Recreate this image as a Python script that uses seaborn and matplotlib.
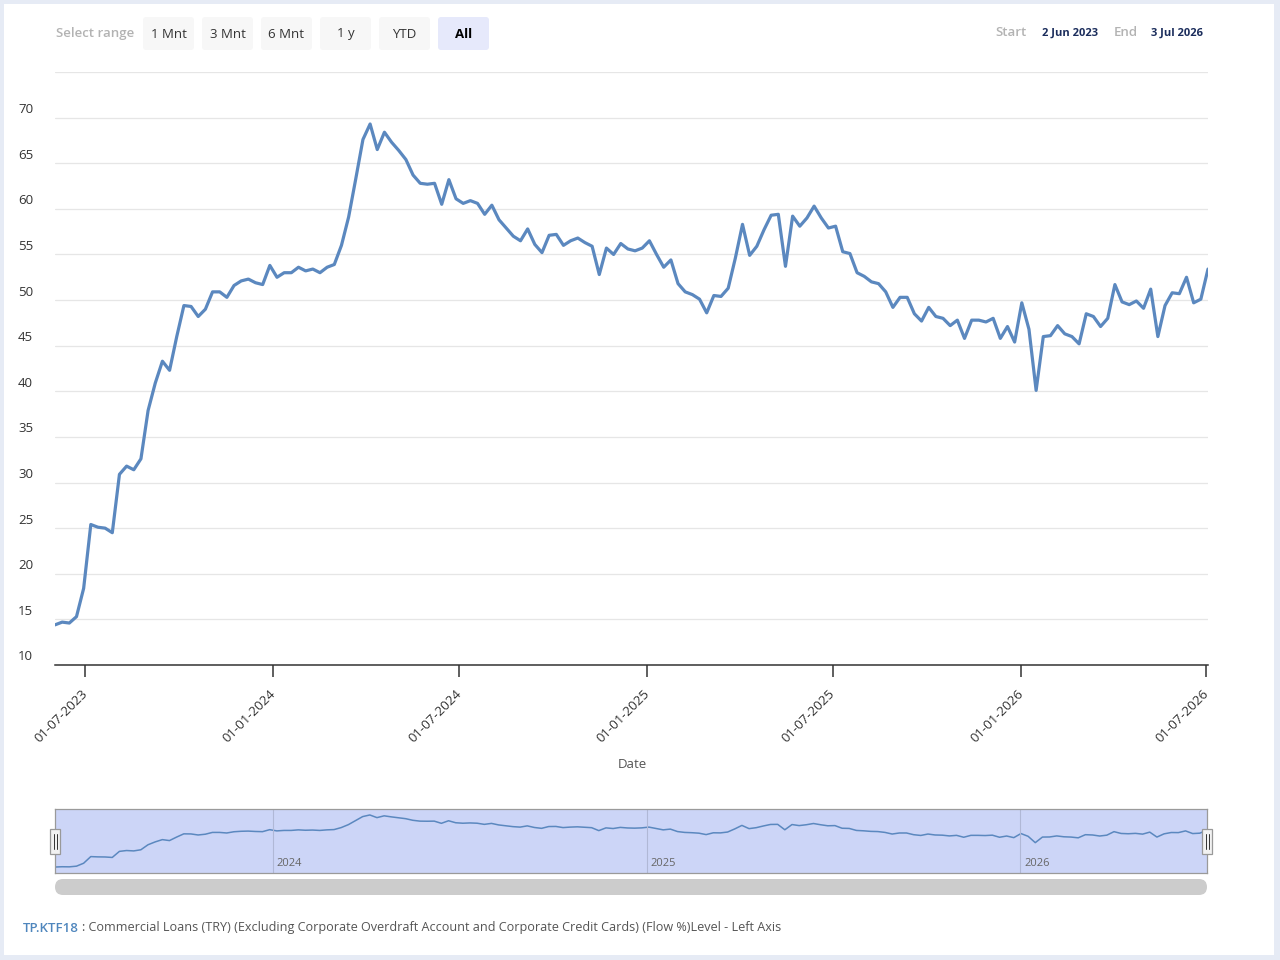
import numpy as np
import pandas as pd
import matplotlib.pyplot as plt
import matplotlib.dates as mdates
import matplotlib.transforms as mtransforms
from matplotlib.patches import FancyBboxPatch, Rectangle
from matplotlib.lines import Line2D
import seaborn as sns

# weekly series, 2 Jun 2023 -> 3 Jul 2026
start_date = '2023-06-02'
levels = [
    14.4, 14.7, 14.6, 15.3, 18.4, 25.4, 25.1, 25.0, 24.5, 30.9,
    31.8, 31.4, 32.6, 37.9, 40.9, 43.3, 42.3, 46.0, 49.4, 49.3,
    48.2, 49.0, 50.9, 50.9, 50.3, 51.6, 52.1, 52.3, 51.9, 51.7,
    53.8, 52.5, 53.0, 53.0, 53.6, 53.2, 53.4, 53.0, 53.6, 53.9,
    56.0, 59.1, 63.3, 67.6, 69.3, 66.5, 68.4, 67.3, 66.4, 65.4,
    63.7, 62.8, 62.7, 62.8, 60.5, 63.2, 61.1, 60.6, 60.9, 60.6,
    59.4, 60.4, 58.8, 57.9, 57.0, 56.5, 57.8, 56.1, 55.2, 57.1,
    57.2, 56.0, 56.5, 56.8, 56.3, 55.9, 52.8, 55.7, 55.0, 56.2,
    55.6, 55.4, 55.7, 56.5, 55.0, 53.6, 54.4, 51.8, 50.9, 50.6,
    50.1, 48.6, 50.5, 50.4, 51.3, 54.6, 58.3, 54.9, 55.9, 57.7,
    59.3, 59.4, 53.7, 59.2, 58.1, 59.0, 60.3, 59.0, 57.9, 58.1,
    55.3, 55.1, 53.0, 52.6, 52.0, 51.8, 50.9, 49.2, 50.3, 50.3,
    48.5, 47.7, 49.2, 48.2, 48.0, 47.2, 47.8, 45.8, 47.8, 47.8,
    47.6, 48.0, 45.8, 47.1, 45.4, 49.7, 46.8, 40.1, 46.0, 46.1,
    47.2, 46.3, 46.0, 45.2, 48.5, 48.2, 47.1, 48.0, 51.7, 49.8,
    49.5, 49.9, 49.1, 51.2, 46.0, 49.4, 50.8, 50.7, 52.5, 49.7,
    50.1, 53.4,
]
y_ticks = [10, 15, 20, 25, 30, 35, 40, 45, 50, 55, 60, 65, 70]
x_ticks = ['2023-07-01', '2024-01-01', '2024-07-01', '2025-01-01',
           '2025-07-01', '2026-01-01', '2026-07-01']
nav_years = ['2024-01-01', '2025-01-01', '2026-01-01']
nav_labels = ['2024', '2025', '2026']
buttons = ['1 Mnt', '3 Mnt', '6 Mnt', '1 y', 'YTD', 'All']

dates = pd.date_range(start_date, periods=len(levels), freq='7D')
df = pd.DataFrame({'Date': dates, 'Level': levels})

sns.set_theme(style='white')
plt.rcParams['font.family'] = ['Open Sans', 'DejaVu Sans']

W, H = 1280, 960
LINE = '#5b88bf'
fig = plt.figure(figsize=(12.8, 9.6), dpi=100)
fig.patch.set_facecolor('#e6ebf5')
px = mtransforms.IdentityTransform()

def box(x0, y0, x1, y1, color, r=3, ec='none', lw=0, z=1):
    p = FancyBboxPatch((x0, H - y1), x1 - x0, y1 - y0,
                       boxstyle=f'round,pad=0,rounding_size={r}',
                       facecolor=color, edgecolor=ec, linewidth=lw,
                       transform=px, zorder=z)
    fig.add_artist(p)

def ptext(x, y, s, **kw):
    kw.setdefault('va', 'center')
    fig.text(x / W, 1 - y / H, s, **kw)

# white panel
fig.add_artist(Rectangle((4, H - 955), 1270, 951, facecolor='white',
                         edgecolor='none', transform=px, zorder=-5))

# main chart
ax = fig.add_axes([55 / W, 1 - 665 / H, 1153 / W, (665 - 72) / H])
sns.lineplot(data=df, x='Date', y='Level', ax=ax, color=LINE, lw=2.3)
ax.set_xlim(dates[0], dates[-1])
ax.set_ylim(10, 75)
ax.set_yticks(y_ticks + [75])
ax.grid(axis='y', color='#e6e6e6', lw=0.9)
ax.tick_params(axis='y', length=0, labelleft=False)
for s in ['top', 'left', 'right']:
    ax.spines[s].set_visible(False)
ax.spines['bottom'].set_color('#333333')
ax.spines['bottom'].set_linewidth(1.1)
ax.set_xticks(pd.to_datetime(x_ticks))
ax.xaxis.set_major_formatter(mdates.DateFormatter('%d-%m-%Y'))
ax.tick_params(axis='x', bottom=True, direction='out', length=8.6, width=1.1,
               color='#333333', labelsize=9.5, labelcolor='#333333', pad=4)
shift = mtransforms.ScaledTranslation(-4 / 100, -5 / 100, fig.dpi_scale_trans)
for lab in ax.get_xticklabels():
    lab.set_rotation(45)
    lab.set_ha('right')
    lab.set_va('top')
    lab.set_rotation_mode('anchor')
    lab.set_transform(lab.get_transform() + shift)
ax.set_xlabel('')
ax.set_ylabel('')

ylab_tr = mtransforms.offset_copy(
    mtransforms.blended_transform_factory(ax.transAxes, ax.transData),
    fig=fig, y=8, units='dots')
for v in y_ticks:
    ax.text(-37 / 1153, v, str(v), transform=ylab_tr, ha='left', va='center',
            fontsize=9.5, color='#333333')

ptext(632, 764, 'Date', ha='center', fontsize=9.5, color='#555555')

# range selector
ptext(56, 34, 'Select range', fontsize=9.5, color='#b3b3b3', weight='semibold')
bx = [143, 202, 261, 320, 379, 438]
for x0, lab in zip(bx, buttons):
    sel = lab == 'All'
    box(x0, 17, x0 + 51, 50, '#e6e9fb' if sel else '#f7f7f7')
    ptext(x0 + 25.5, 34, lab, ha='center', fontsize=9.5,
          color='#000000' if sel else '#333333',
          weight='bold' if sel else 'normal')

ptext(995, 33, 'Start', fontsize=9.5, color='#b3b3b3', weight='semibold')
ptext(1042, 33, '2 Jun 2023', fontsize=8, color='#1b2d5c', weight='bold')
ptext(1114, 33, 'End', fontsize=9.5, color='#b3b3b3', weight='semibold')
ptext(1151, 33, '3 Jul 2026', fontsize=8, color='#1b2d5c', weight='bold')

# navigator
nav = fig.add_axes([55 / W, 1 - 873 / H, 1152 / W, 64 / H])
nav.set_facecolor('#ccd5f7')
sns.lineplot(data=df, x='Date', y='Level', ax=nav, color=LINE, lw=1.1)
nav.set_xlim(dates[0], dates[-1])
nav.set_ylim(8.1, 75.6)
nav.set_xticks([])
nav.set_yticks([])
nav.set_xlabel('')
nav.set_ylabel('')
for s in nav.spines.values():
    s.set_color('#9a9a9a')
    s.set_linewidth(0.9)
lab_tr = mtransforms.offset_copy(
    mtransforms.blended_transform_factory(nav.transData, nav.transAxes),
    fig=fig, x=4, units='dots')
for d, lab in zip(nav_years, nav_labels):
    d = pd.Timestamp(d)
    nav.axvline(d, color='#b0b8d6', lw=0.8)
    nav.text(d, 0.15, lab, transform=lab_tr, ha='left', va='center',
             fontsize=8, color='#666666')

for hx in [55, 1207]:
    fig.add_artist(Rectangle((hx - 5, H - 854), 10, 25, facecolor='#f2f2f2',
                             edgecolor='#999999', lw=0.9, transform=px, zorder=5))
    for lx in [hx - 1.5, hx + 1.5]:
        fig.add_artist(Line2D([lx, lx], [H - 849, H - 834], color='#333333',
                              lw=0.7, transform=px, zorder=6))

# scrollbar
box(55, 879, 1207, 895, '#cccccc', r=8)

# footer
ptext(23, 928, 'TP.KTF18', fontsize=9.5, color='#4f86bd', weight='semibold')
ptext(82, 928, ': Commercial Loans (TRY) (Excluding Corporate Overdraft Account '
      'and Corporate Credit Cards) (Flow %)Level - Left Axis',
      fontsize=9.1, color='#555555')

fig.savefig('out.png', dpi=100, facecolor=fig.get_facecolor())
